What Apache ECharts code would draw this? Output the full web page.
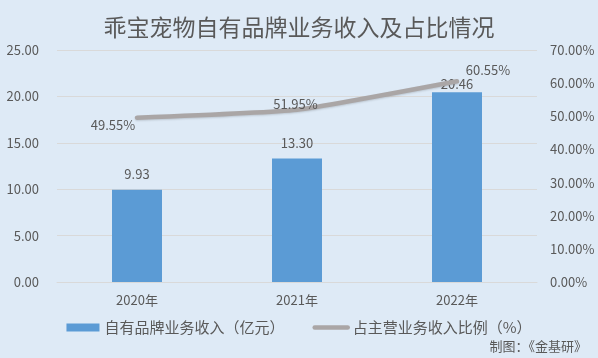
<!DOCTYPE html>
<html>
<head>
<meta charset="utf-8">
<script src="https://cdn.jsdelivr.net/npm/echarts@6/dist/echarts.min.js"></script>
<style>
html,body{margin:0;padding:0;background:#deeaf6;}
#chart{width:598px;height:358px;}
</style>
</head>
<body>
<div id="chart"></div>
<script>
const categories = ['2020年', '2021年', '2022年'];
const revenue = [9.93, 13.30, 20.46];
const ratio = [49.55, 51.95, 60.55];
const leftTicks = { min: 0, max: 25, interval: 5 };
const rightTicks = { min: 0, max: 70, interval: 10 };

const FONT = '"Microsoft YaHei", "Noto Sans CJK SC", sans-serif';
const TXT = '#595959';

// label styling per item (style only)
const barLabelDistance = [9, 9, 2];
const lineLabelStyle = [
  { position: 'bottom', offset: [-24, -4.5] },
  { position: 'top', offset: [-1.5, 5.5] },
  { position: 'top', offset: [31, 0] }
];

const chart = echarts.init(document.getElementById('chart'), null, { renderer: 'canvas' });
chart.setOption({
  backgroundColor: '#deeaf6',
  textStyle: { fontFamily: FONT },
  title: {
    text: '乖宝宠物自有品牌业务收入及占比情况',
    left: 'center',
    top: 11,
    textStyle: { fontSize: 23, fontWeight: 'normal', color: TXT, fontFamily: FONT }
  },
  graphic: [{
    type: 'text',
    right: 11,
    top: 340,
    style: { text: '制图：《金基研》', fontSize: 13, fill: TXT, fontFamily: FONT }
  }],
  legend: {
    left: 'center',
    top: 315,
    itemGap: 28,
    itemWidth: 33,
    itemHeight: 8,
    textStyle: { fontSize: 15, color: TXT, fontFamily: FONT },
    data: [
      { name: '自有品牌业务收入（亿元）', icon: 'rect' },
      { name: '占主营业务收入比例（%）', itemStyle: { opacity: 0 },
        lineStyle: { width: 4.5, color: '#aaa6a6', cap: 'round' } }
    ]
  },
  grid: { left: 57, right: 61, top: 50, bottom: 76, containLabel: false },
  xAxis: {
    type: 'category',
    data: categories,
    axisLine: { show: true, lineStyle: { color: '#d9d9d9', width: 1 } },
    axisTick: { show: false },
    axisLabel: { fontSize: 13, color: TXT, margin: 12, fontFamily: FONT }
  },
  yAxis: [{
    type: 'value',
    min: leftTicks.min, max: leftTicks.max, interval: leftTicks.interval,
    axisLine: { show: false }, axisTick: { show: false },
    splitLine: { lineStyle: { color: '#d9d9d9', width: 1 } },
    axisLabel: { fontSize: 13, color: TXT, margin: 18, fontFamily: FONT,
      formatter: v => v.toFixed(2) }
  }, {
    type: 'value',
    min: rightTicks.min, max: rightTicks.max, interval: rightTicks.interval,
    axisLine: { show: false }, axisTick: { show: false },
    splitLine: { show: false },
    axisLabel: { fontSize: 13, color: TXT, margin: 13, fontFamily: FONT,
      formatter: v => v.toFixed(2) + '%' }
  }],
  series: [{
    name: '自有品牌业务收入（亿元）',
    type: 'bar',
    barWidth: 50,
    itemStyle: { color: '#5b9bd5' },
    data: revenue.map((v, i) => ({
      value: v,
      label: { distance: barLabelDistance[i] }
    })),
    label: {
      show: true, position: 'top', fontSize: 13, color: TXT, fontFamily: FONT,
      formatter: p => p.value.toFixed(2)
    },
    z: 2
  }, {
    name: '占主营业务收入比例（%）',
    type: 'line',
    yAxisIndex: 1,
    smooth: 0.15,
    symbol: 'circle',
    symbolSize: 0,
    showSymbol: true,
    lineStyle: { color: '#aaa6a6', width: 4.5, cap: 'round',
      shadowColor: 'rgba(0,0,0,0.15)', shadowBlur: 2, shadowOffsetY: 1 },
    itemStyle: { color: '#aaa6a6' },
    data: ratio.map((v, i) => ({ value: v, label: lineLabelStyle[i] })),
    label: {
      show: true, fontSize: 13, color: TXT, fontFamily: FONT,
      formatter: p => p.value.toFixed(2) + '%'
    },
    z: 3
  }]
});
</script>
</body>
</html>
